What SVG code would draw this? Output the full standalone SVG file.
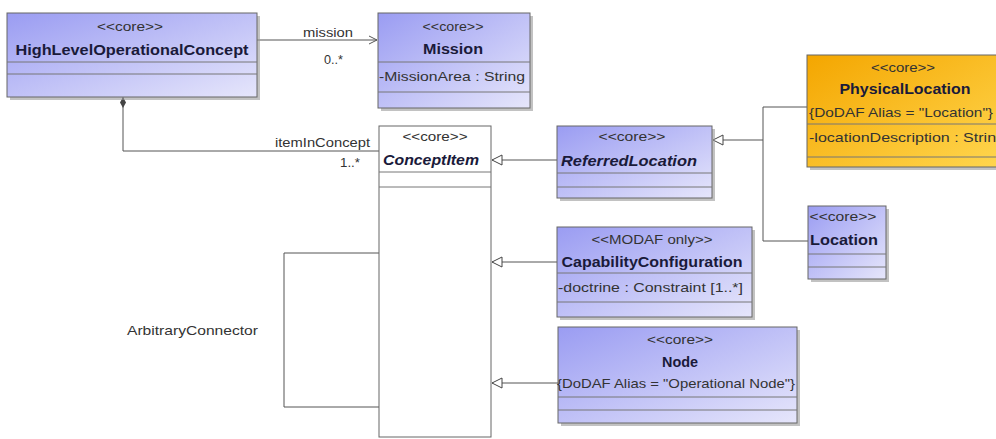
<svg xmlns="http://www.w3.org/2000/svg" width="996" height="439" viewBox="0 0 996 439">
<defs>
<linearGradient id="blue" x1="0" y1="0" x2="1" y2="1">
<stop offset="0" stop-color="#9a9cf2"/><stop offset="1" stop-color="#e6e6fb"/>
</linearGradient>
<linearGradient id="orange" x1="0" y1="0" x2="1" y2="1">
<stop offset="0" stop-color="#f4a600"/><stop offset="1" stop-color="#ffd64e"/>
</linearGradient>
<marker id="open" markerWidth="10" markerHeight="10" refX="9" refY="5" orient="auto" markerUnits="userSpaceOnUse">
<path d="M1,1 L9,5 L1,9" fill="none" stroke="#555" stroke-width="1"/>
</marker>
<marker id="tri" markerWidth="12" markerHeight="12" refX="11" refY="6" orient="auto" markerUnits="userSpaceOnUse">
<path d="M1,1 L11,6 L1,11 Z" fill="#fff" stroke="#444" stroke-width="1"/>
</marker>
<marker id="dia" markerWidth="8" markerHeight="14" refX="4" refY="1" orient="0" markerUnits="userSpaceOnUse">
<path d="M4,1 L7,6.5 L4,12 L1,6.5 Z" fill="#444"/>
</marker>
</defs>
<style>
text{font-family:"Liberation Sans",Arial,sans-serif;fill:#222}
.st{font-size:12px;text-anchor:middle;fill:#333}
.nm{font-size:14px;font-weight:bold;text-anchor:middle;fill:#1a1a3a}
.it{font-style:italic}
.at{font-size:13px;fill:#333}
.lb{font-size:13px;fill:#333}
.box{stroke:#666;stroke-width:1}
.sh{fill:#999;opacity:0.6}
.sep{stroke:#777;stroke-width:1}
.con{fill:none;stroke:#555;stroke-width:1}
</style>

<g id="connectors">
<path class="con" d="M257,40 H377" marker-end="url(#open)"/>
<text class="lb" x="303" y="37" textLength="50" lengthAdjust="spacingAndGlyphs">mission</text>
<text class="lb" x="324" y="64" textLength="19" lengthAdjust="spacingAndGlyphs">0..*</text>
<path class="con" d="M123,97 V151 H379" marker-start="url(#dia)"/>
<text class="lb" x="275" y="147" textLength="95" lengthAdjust="spacingAndGlyphs">itemInConcept</text>
<text class="lb" x="340" y="167" textLength="20" lengthAdjust="spacingAndGlyphs">1..*</text>
<path class="con" d="M557,160 H492" marker-end="url(#tri)"/>
<path class="con" d="M557,262 H492" marker-end="url(#tri)"/>
<path class="con" d="M558,383 H492" marker-end="url(#tri)"/>
<path class="con" d="M807,107 H763 V241 H808"/>
<path class="con" d="M763,140 H713" marker-end="url(#tri)"/>
<path class="con" d="M379,253 H284 V407 H379"/>
<text class="lb" x="127" y="335" textLength="131" lengthAdjust="spacingAndGlyphs">ArbitraryConnector</text>
</g>

<g id="HighLevelOperationalConcept">
<rect class="sh" x="10" y="16" width="250" height="84"/>
<rect class="box" x="7" y="13" width="250" height="84" fill="url(#blue)"/>
<text class="st" x="130" y="31" textLength="66" lengthAdjust="spacingAndGlyphs">&lt;&lt;core&gt;&gt;</text>
<text class="nm" x="132" y="55" textLength="233" lengthAdjust="spacingAndGlyphs">HighLevelOperationalConcept</text>
<line class="sep" x1="7" y1="62" x2="257" y2="62"/>
<line class="sep" x1="7" y1="74" x2="257" y2="74"/>
</g>

<g id="Mission">
<rect class="sh" x="381" y="16" width="152" height="95"/>
<rect class="box" x="378" y="13" width="152" height="95" fill="url(#blue)"/>
<text class="st" x="453" y="31" textLength="61" lengthAdjust="spacingAndGlyphs">&lt;&lt;core&gt;&gt;</text>
<text class="nm" x="453" y="54" textLength="60" lengthAdjust="spacingAndGlyphs">Mission</text>
<line class="sep" x1="378" y1="62" x2="530" y2="62"/>
<text class="at" x="379" y="81" textLength="146" lengthAdjust="spacingAndGlyphs">-MissionArea : String</text>
<line class="sep" x1="378" y1="92" x2="530" y2="92"/>
</g>

<g id="PhysicalLocation">
<rect class="sh" x="810" y="58" width="190" height="112"/>
<rect class="box" x="807" y="55" width="193" height="112" fill="url(#orange)"/>
<text class="st" x="903" y="72" textLength="64" lengthAdjust="spacingAndGlyphs">&lt;&lt;core&gt;&gt;</text>
<text class="nm" x="905" y="94" textLength="131" lengthAdjust="spacingAndGlyphs">PhysicalLocation</text>
<text class="at" x="809" y="117" textLength="184" lengthAdjust="spacingAndGlyphs">{DoDAF Alias = "Location"}</text>
<line class="sep" x1="807" y1="124" x2="1000" y2="124"/>
<text class="at" x="809" y="142" textLength="196" lengthAdjust="spacingAndGlyphs">-locationDescription : String</text>
<line class="sep" x1="807" y1="157" x2="1000" y2="157"/>
</g>

<g id="ConceptItem">
<rect class="box" x="379" y="126" width="112" height="311" fill="#fff"/>
<text class="st" x="435" y="141" textLength="65" lengthAdjust="spacingAndGlyphs">&lt;&lt;core&gt;&gt;</text>
<text class="nm it" x="431" y="165" textLength="96" lengthAdjust="spacingAndGlyphs">ConceptItem</text>
<line class="sep" x1="379" y1="172" x2="491" y2="172"/>
<line class="sep" x1="379" y1="187" x2="491" y2="187"/>
</g>

<g id="ReferredLocation">
<rect class="sh" x="560" y="129" width="155" height="72"/>
<rect class="box" x="557" y="126" width="155" height="72" fill="url(#blue)"/>
<text class="st" x="632" y="141" textLength="67" lengthAdjust="spacingAndGlyphs">&lt;&lt;core&gt;&gt;</text>
<text class="nm it" x="629" y="166" textLength="136" lengthAdjust="spacingAndGlyphs">ReferredLocation</text>
<line class="sep" x1="557" y1="173" x2="712" y2="173"/>
<line class="sep" x1="557" y1="187" x2="712" y2="187"/>
</g>

<g id="Location">
<rect class="sh" x="811" y="209" width="78" height="73"/>
<rect class="box" x="808" y="206" width="78" height="73" fill="url(#blue)"/>
<text class="st" x="843" y="221" textLength="67" lengthAdjust="spacingAndGlyphs">&lt;&lt;core&gt;&gt;</text>
<text class="nm" x="844" y="245" textLength="68" lengthAdjust="spacingAndGlyphs">Location</text>
<line class="sep" x1="808" y1="254" x2="886" y2="254"/>
<line class="sep" x1="808" y1="267" x2="886" y2="267"/>
</g>

<g id="CapabilityConfiguration">
<rect class="sh" x="560" y="230" width="195" height="90"/>
<rect class="box" x="557" y="227" width="195" height="90" fill="url(#blue)"/>
<text class="st" x="652" y="244" textLength="121" lengthAdjust="spacingAndGlyphs">&lt;&lt;MODAF only&gt;&gt;</text>
<text class="nm" x="652" y="267" textLength="181" lengthAdjust="spacingAndGlyphs">CapabilityConfiguration</text>
<line class="sep" x1="557" y1="273" x2="752" y2="273"/>
<text class="at" x="558" y="292" textLength="185" lengthAdjust="spacingAndGlyphs">-doctrine : Constraint [1..*]</text>
<line class="sep" x1="557" y1="302" x2="752" y2="302"/>
</g>

<g id="Node">
<rect class="sh" x="561" y="330" width="239" height="96"/>
<rect class="box" x="558" y="327" width="239" height="96" fill="url(#blue)"/>
<text class="st" x="680" y="344" textLength="66" lengthAdjust="spacingAndGlyphs">&lt;&lt;core&gt;&gt;</text>
<text class="nm" x="680" y="367" textLength="36" lengthAdjust="spacingAndGlyphs">Node</text>
<text class="at" x="557" y="388" textLength="238" lengthAdjust="spacingAndGlyphs">{DoDAF Alias = "Operational Node"}</text>
<line class="sep" x1="558" y1="397" x2="797" y2="397"/>
<line class="sep" x1="558" y1="410" x2="797" y2="410"/>
</g>
</svg>
